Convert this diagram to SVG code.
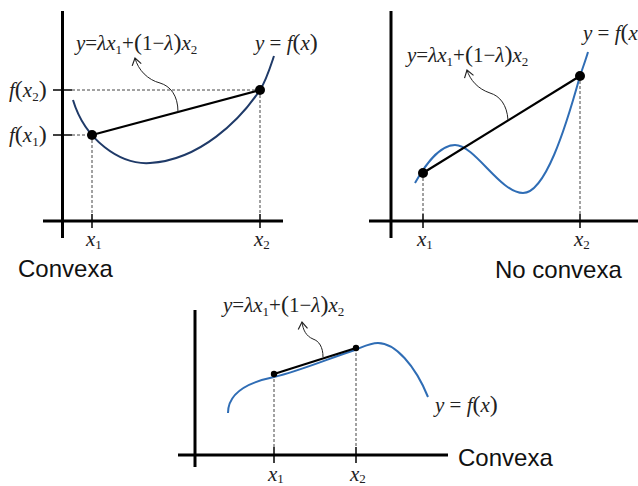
<svg xmlns="http://www.w3.org/2000/svg" width="638" height="486" viewBox="0 0 638 486">
<style>
.ax{stroke:#000;stroke-width:3;fill:none}
.tk{stroke:#000;stroke-width:1.5;fill:none}
.ds{stroke:#444;stroke-width:1;stroke-dasharray:3,2;fill:none}
.ch{stroke:#000;stroke-width:2.2;fill:none}
.ar{stroke:#222;stroke-width:1;fill:none}
.c1{stroke:#1f3a68;stroke-width:2;fill:none}
.c2{stroke:#2f6db5;stroke-width:2;fill:none}
.m{font-family:"Liberation Serif",serif;font-size:21px;fill:#222}
.i{font-style:italic}
.s{font-size:13px}
.p{font-size:24px}
.t{font-family:"Liberation Sans",Arial,sans-serif;font-size:24px;fill:#111}
</style>
<defs>
<marker id="ah" markerUnits="userSpaceOnUse" markerWidth="14" markerHeight="14" refX="0" refY="0" viewBox="-8 -6 10 12" orient="auto">
<path d="M-6,-4 L0,0 L-6,4" stroke="#222" stroke-width="1" fill="none"/>
</marker>
</defs>
<rect width="638" height="486" fill="#fff"/>

<g id="panel1">
<line class="ax" x1="62.5" y1="11" x2="62.5" y2="238"/>
<line class="ax" x1="43" y1="221" x2="283" y2="221"/>
<line class="tk" x1="92" y1="214" x2="92" y2="228"/>
<line class="tk" x1="260" y1="214" x2="260" y2="228"/>
<line class="tk" x1="53" y1="90" x2="72" y2="90"/>
<line class="tk" x1="53" y1="135" x2="72" y2="135"/>
<g id="dashes1">
<line class="ds" x1="72" y1="90" x2="260" y2="90"/>
<line class="ds" x1="72" y1="135" x2="92" y2="135"/>
<line class="ds" x1="92" y1="135" x2="92" y2="214"/>
<line class="ds" x1="260" y1="90" x2="260" y2="214"/>
</g>
<path class="c1" d="M73,100 C85,140 120,165 150,163 C200,160 240,120 260,90 C266,81 270,68 274,56"/>
<line class="ch" x1="92" y1="135" x2="260" y2="90"/>
<circle cx="92" cy="135" r="5"/>
<circle cx="260" cy="90" r="5"/>
<path class="ar" d="M178,112 C178,95 170,86 160,83 C148,80 138,70 135,58" marker-end="url(#ah)"/>
<text class="m" x="76" y="50"><tspan class="i">y</tspan>=<tspan class="i">λx</tspan><tspan class="s" dy="4">1</tspan><tspan dy="-4">+</tspan><tspan class="p">(</tspan>1−<tspan class="i">λ</tspan><tspan class="p">)</tspan><tspan class="i">x</tspan><tspan class="s" dy="4">2</tspan></text>
<text class="m" x="255" y="50"><tspan class="i">y</tspan> = <tspan class="i">f</tspan><tspan class="p">(</tspan><tspan class="i">x</tspan><tspan class="p">)</tspan></text>
<text class="m" x="9" y="97"><tspan class="i">f</tspan><tspan class="p">(</tspan><tspan class="i">x</tspan><tspan class="s" dy="4">2</tspan><tspan class="p" dy="-4">)</tspan></text>
<text class="m" x="9" y="142"><tspan class="i">f</tspan><tspan class="p">(</tspan><tspan class="i">x</tspan><tspan class="s" dy="4">1</tspan><tspan class="p" dy="-4">)</tspan></text>
<text class="m" x="86" y="246"><tspan class="i">x</tspan><tspan class="s" dy="3">1</tspan></text>
<text class="m" x="254" y="246"><tspan class="i">x</tspan><tspan class="s" dy="3">2</tspan></text>
<text class="t" x="18" y="277">Convexa</text>
</g>

<g id="panel2">
<line class="ax" x1="391" y1="11" x2="391" y2="238"/>
<line class="ax" x1="369" y1="221" x2="638" y2="221"/>
<line class="tk" x1="423" y1="214" x2="423" y2="228"/>
<line class="tk" x1="580" y1="214" x2="580" y2="228"/>
<g id="dashes2">
<line class="ds" x1="423" y1="173" x2="423" y2="214"/>
<line class="ds" x1="580" y1="76" x2="580" y2="214"/>
</g>
<path class="c2" d="M415,183 C425,165 440,145 455,145 C475,145 500,193 523,193 C545,193 565,130 580,76 C583,67 586,59 588,52"/>
<line class="ch" x1="423" y1="173" x2="580" y2="76"/>
<circle cx="423" cy="173" r="5"/>
<circle cx="580" cy="76" r="5"/>
<path class="ar" d="M508,120 C507,105 500,96 490,93 C478,89 470,80 467,70" marker-end="url(#ah)"/>
<text class="m" x="407" y="62"><tspan class="i">y</tspan>=<tspan class="i">λx</tspan><tspan class="s" dy="4">1</tspan><tspan dy="-4">+</tspan><tspan class="p">(</tspan>1−<tspan class="i">λ</tspan><tspan class="p">)</tspan><tspan class="i">x</tspan><tspan class="s" dy="4">2</tspan></text>
<text class="m" x="583" y="40"><tspan class="i">y</tspan> = <tspan class="i">f</tspan><tspan class="p">(</tspan><tspan class="i">x</tspan></text>
<text class="m" x="417" y="246"><tspan class="i">x</tspan><tspan class="s" dy="3">1</tspan></text>
<text class="m" x="574" y="246"><tspan class="i">x</tspan><tspan class="s" dy="3">2</tspan></text>
<text class="t" x="495" y="278">No convexa</text>
</g>

<g id="panel3">
<line class="ax" x1="195" y1="310" x2="195" y2="467"/>
<line class="ax" x1="178" y1="455" x2="448" y2="455"/>
<line class="tk" x1="274" y1="447" x2="274" y2="463"/>
<line class="tk" x1="356" y1="447" x2="356" y2="463"/>
<g id="dashes3">
<line class="ds" x1="274" y1="374" x2="274" y2="447"/>
<line class="ds" x1="356" y1="348" x2="356" y2="447"/>
</g>
<path class="c2" d="M228,413 C228,398 240,384 274,377 C300,371 330,358 355,350 C365,346 370,343 378,343 C395,343 415,365 428,397"/>
<line class="ch" x1="274" y1="374" x2="356" y2="348"/>
<circle cx="274" cy="374" r="3.2"/>
<circle cx="356" cy="348" r="3.2"/>
<path class="ar" d="M323,357 C323,347 319,341 313,339 C306,336 303,330 302,322" marker-end="url(#ah)"/>
<text class="m" x="223" y="312"><tspan class="i">y</tspan>=<tspan class="i">λx</tspan><tspan class="s" dy="4">1</tspan><tspan dy="-4">+</tspan><tspan class="p">(</tspan>1−<tspan class="i">λ</tspan><tspan class="p">)</tspan><tspan class="i">x</tspan><tspan class="s" dy="4">2</tspan></text>
<text class="m" x="435" y="412"><tspan class="i">y</tspan> = <tspan class="i">f</tspan><tspan class="p">(</tspan><tspan class="i">x</tspan><tspan class="p">)</tspan></text>
<text class="m" x="268" y="481"><tspan class="i">x</tspan><tspan class="s" dy="2">1</tspan></text>
<text class="m" x="350" y="481"><tspan class="i">x</tspan><tspan class="s" dy="2">2</tspan></text>
<text class="t" x="458" y="466">Convexa</text>
</g>
</svg>
